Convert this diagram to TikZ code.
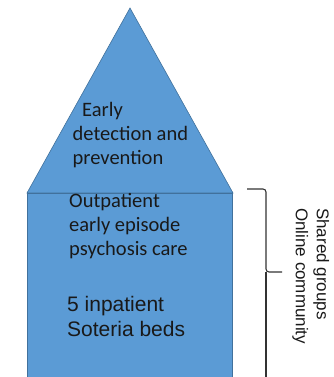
\documentclass[tikz,border=0pt]{standalone}
\usepackage{fontspec}
\newfontfamily\calibri{Carlito}
\newfontfamily\arial{Liberation Sans}
\definecolor{boxblue}{HTML}{5B9BD5}
\definecolor{boxedge}{HTML}{41719C}
\definecolor{bracegray}{HTML}{333333}
\begin{document}
\begin{tikzpicture}[x=1pt,y=-1pt,
  bluefill/.style={fill=boxblue,draw=boxedge,line width=0.6pt},
  calitext/.style={inner sep=0pt,anchor=north west,align=left,font=\calibri\fontsize{20.5}{24}\selectfont,text=black!90},
  arialtext/.style={inner sep=0pt,anchor=north west,align=left,font=\arial\fontsize{21}{25}\selectfont,text=black!90},
  sidetext/.style={inner sep=0pt,anchor=north west,align=left,rotate=-90,font=\arial\fontsize{17}{21}\selectfont,text=black!90},
  bracestyle/.style={draw=bracegray,line width=1.1pt}]
\useasboundingbox (0,0) rectangle (334,377);
% triangle
\path[bluefill] (27,193) -- (130,8) -- (233,193) -- cycle;
% rectangle
\path[bluefill] (27,193) rectangle (232,390);
% texts
\node[calitext] (early) at (72.5,102.5) {\hspace{9.5pt}Early\\detection and\\prevention};
\node[calitext] (outp) at (69,193.5) {Outpatient\\early episode\\psychosis care};
\node[arialtext] (inpat) at (67,296.5) {5 inpatient\\Soteria beds};
% brace
\coordinate (btop) at (247,189);
\coordinate (bcorner) at (266,189);
\coordinate (bmid) at (266,272);
\coordinate (btip) at (282,272);
\coordinate (bbot) at (266,390);
\draw[bracestyle,rounded corners=3pt] (btop) -- (bcorner) -- (bmid) -- (btip);
\draw[bracestyle] (bmid) -- (bbot);
\node[sidetext] (side) at (329.5,208) {Shared groups\\Online community};
\end{tikzpicture}
\end{document}
